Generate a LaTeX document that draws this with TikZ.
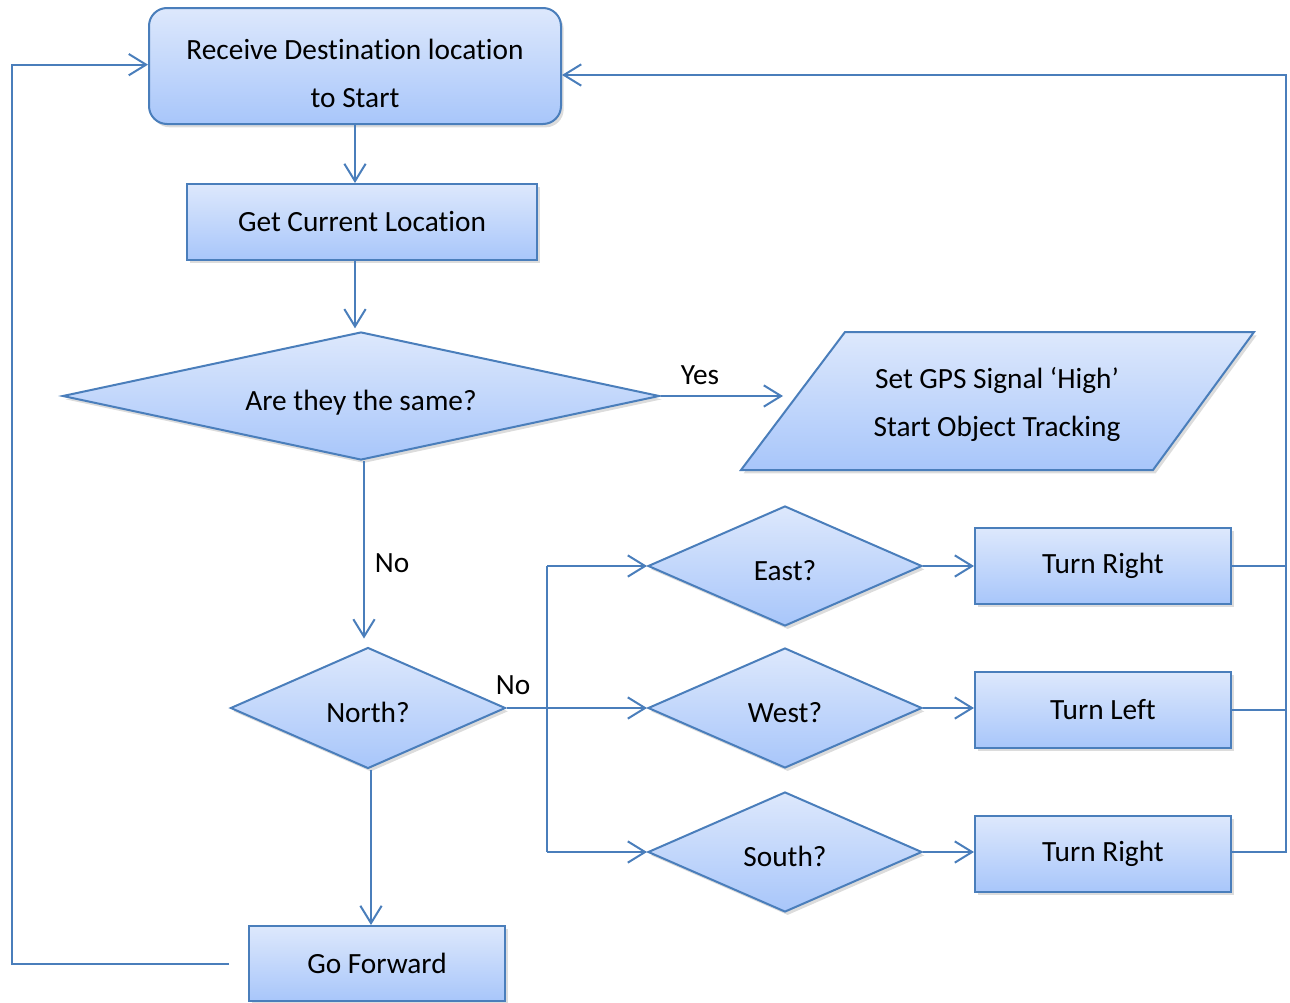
\documentclass[tikz,border=0pt]{standalone}
\usepackage{fontspec}
\setmainfont{Carlito}[Ligatures=NoCommon]
\usetikzlibrary{shapes.geometric,shadows,arrows.meta}
\newdimen\px \px=0.75pt
\definecolor{edgeblue}{HTML}{4A7EBB}
\definecolor{topfill}{HTML}{DDE8FC}
\definecolor{botfill}{HTML}{A8C6FA}
\tikzset{
  fillstyle/.style={draw=edgeblue, line width=1.5pt, top color=topfill, bottom color=botfill,
    drop shadow={shadow xshift=2pt,shadow yshift=-2.5pt,opacity=0.28}},
  txt/.style={font=\fontsize{22}{36}\selectfont, align=center, text=black},
  shp/.style={fillstyle, txt, inner sep=0pt},
  procbox/.style={shp, rectangle, minimum width=#1\px, minimum height=76\px},
  decbox/.style={shp, diamond, text height=24pt, text depth=3pt},
  conn/.style={draw=edgeblue, line width=1.5pt},
  arr/.style={conn, -{Straight Barb[length=13pt,width=16pt,line width=1.5pt]}},
  lbl/.style={font=\fontsize{22}{26}\selectfont, text=black, inner sep=0pt}
}
\begin{document}
\begin{tikzpicture}[x=0.75pt,y=-0.75pt]
\useasboundingbox (0,0) rectangle (1290,1003);
% nodes
\node[shp, rectangle, rounded corners=18\px, minimum width=412\px, minimum height=116\px] (recv) at (355,66) {};
\node[txt, inner sep=0pt] (recvtext) at (355,73) {Receive Destination location\\to Start};
\node[procbox=350] (get) at (362,222) {Get Current Location};
\node[decbox, minimum width=597\px, minimum height=128\px, shape aspect=4.66] (same) at (361,396) {Are they the same?};
\path[fillstyle] (741,470) -- (845,332) -- (1254,332) -- (1153,470) -- cycle;
\node[txt, inner sep=0pt] (gps) at (997,404) {Set GPS Signal ‘High’\\Start Object Tracking};
\node[decbox, minimum width=275\px, minimum height=121\px, shape aspect=2.27] (north) at (368,708) {North?};
\node[decbox, minimum width=274\px, minimum height=120\px, shape aspect=2.28] (east) at (785,566) {East?};
\node[decbox, minimum width=274\px, minimum height=120\px, shape aspect=2.28] (west) at (785,708) {West?};
\node[decbox, minimum width=274\px, minimum height=120\px, shape aspect=2.28] (south) at (785,852) {South?};
\node[procbox=256] (tr1) at (1103,566) {Turn Right};
\node[procbox=256] (tl) at (1103,710) {Turn Left};
\node[procbox=256] (tr2) at (1103,854) {Turn Right};
\node[procbox=256, minimum height=75\px] (go) at (377,963.5) {Go Forward};
% labels
\node[lbl] (yes) at (700,375) {Yes};
\node[lbl] (no1) at (392,563) {No};
\node[lbl] (no2) at (513,685) {No};
% helper coordinates
\coordinate (br) at (547,708);
\coordinate (rt) at (1286,75);
\coordinate (gl) at (229,964);
\coordinate (lc) at (12,0);
\coordinate (yt) at (783,396);
% connectors
\draw[arr] (recv.south) -- (recv.south |- get.north);
\draw[arr] (recv.south |- get.south) -- ([yshift=2pt]recv.south |- same.north);
\draw[arr] (same.east) -- (yt);
\draw[arr] ([xshift=3\px]same.south) -- ([xshift=3\px,yshift=6pt]same.south |- north.north);
\draw[arr] (north.east) -- (west.west);
\draw[conn] (br |- east.west) -- (br |- south.west);
\draw[arr] (br |- east.west) -- (east.west);
\draw[arr] (br |- south.west) -- (south.west);
\draw[arr] (east.east) -- (east.east -| tr1.west);
\draw[arr] (west.east) -- (west.east -| tl.west);
\draw[arr] (south.east) -- (south.east -| tr2.west);
\draw[conn] (tr1.east) -- (tr1.east -| rt);
\draw[conn] (tl.east) -- (tl.east -| rt);
\draw[arr] ([yshift=1.5pt]tr2.east) -- ([yshift=1.5pt]tr2.east -| rt) -- (rt) -- (rt -| recv.east);
\draw[arr] ([xshift=3\px]north.south) -- ([xshift=3\px]north.south |- go.north);
\draw[arr] (gl) -- (gl -| lc) |- ([yshift=1pt]recv.west);
\end{tikzpicture}
\end{document}
